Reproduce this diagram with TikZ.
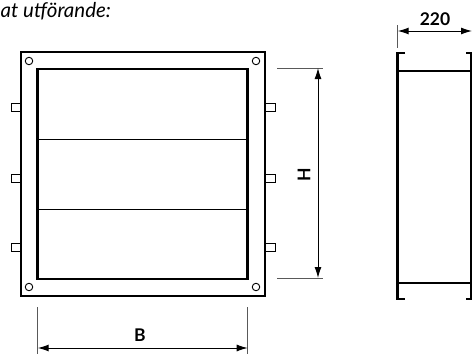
\documentclass[tikz,border=0pt]{standalone}
\usepackage{fontspec}
\setmainfont{Lato}
\usetikzlibrary{arrows.meta}
\begin{document}
\begin{tikzpicture}[x=1pt,y=-1pt,
	frame/.style={draw, line width=2.6pt, inner sep=0pt},
	ear/.style={draw, line width=1pt, fill=white},
	hole/.style={draw, line width=0.9pt, circle, minimum size=7.5pt, inner sep=0pt},
	extline/.style={draw, gray!70!black, line width=0.8pt},
	dimline/.style={line width=1pt, {Latex[length=11pt,width=7pt]}-{Latex[length=11pt,width=7pt]}},
	dimlabel/.style={font=\bfseries\fontsize{17.5}{20}\selectfont, inner sep=1pt}]
	\useasboundingbox (0,0) rectangle (472,354);
	\clip (0,0) rectangle (472,354);
	
	\node[anchor=base west, inner sep=0pt, font=\itshape\fontsize{20.5}{23}\selectfont] (title) at (0.5,17) {at utförande:};
	
	% front view
	\foreach \y/\n in {107/1,178/2,247/3}{
		\draw[ear] (11,\y-4) rectangle (21,\y+4);
		\draw[ear] (265,\y-4) rectangle (275,\y+4);
	}
	\draw[frame, fill=white] (21,52) coordinate (otl) rectangle (265,296) coordinate (obr);
	\draw[frame] (37.7,69) coordinate (itl) rectangle (247.7,279) coordinate (ibr);
	\draw[line width=0.9pt] (37.7,139) coordinate (d1l) -- (247.7,139) coordinate (d1r);
	\draw[line width=0.9pt] (37.7,209) coordinate (d2l) -- (247.7,209) coordinate (d2r);
	\node[hole] (h1) at (29,61) {};
	\node[hole] (h2) at (256,61) {};
	\node[hole] (h3) at (29,287) {};
	\node[hole] (h4) at (256,287) {};
	
	% H
	\coordinate (ht1) at (277,68);
	\coordinate (ht2) at (323,68);
	\coordinate (hb1) at (277,278);
	\coordinate (hb2) at (323,278);
	\draw[extline] (ht1) -- (ht2);
	\draw[extline] (hb1) -- (hb2);
	\coordinate (ha) at (318,68);
	\coordinate (hz) at (318,278);
	\draw[dimline] (ha) -- (hz);
	\node[dimlabel, rotate=90] (H) at (304,175) {H};
	
	% B
	\coordinate (bl1) at (37.7,307);
	\coordinate (bl2) at (37.7,354);
	\coordinate (br1) at (247.7,307);
	\coordinate (br2) at (247.7,354);
	\draw[extline] (bl1) -- (bl2);
	\draw[extline] (br1) -- (br2);
	\coordinate (ba) at (37.7,348);
	\coordinate (bz) at (247.7,348);
	\draw[dimline] (ba) -- (bz);
	\node[dimlabel] (B) at (140,335) {B};
	
	% side view
	\draw[line width=2.6pt] (405,53) -- (397.7,53) -- (397.7,299) -- (405,299);
	\draw[line width=2.6pt] (466,53) -- (471.5,53) -- (471.5,299) -- (466,299);
	\draw[line width=2.2pt] (397.7,71) coordinate (s1) -- (472,71) coordinate (s2);
	\draw[line width=2.2pt] (397.7,283) coordinate (s3) -- (472,283) coordinate (s4);
	
	% 220
	\coordinate (wa1) at (397.7,25);
	\coordinate (wa2) at (397.7,48);
	\draw[extline] (wa1) -- (wa2);
	\coordinate (wa) at (397.7,31);
	\coordinate (wz) at (472,31);
	\draw[dimline] (wa) -- (wz);
	\node[dimlabel] (w) at (435,19) {220};
\end{tikzpicture}
\end{document}
